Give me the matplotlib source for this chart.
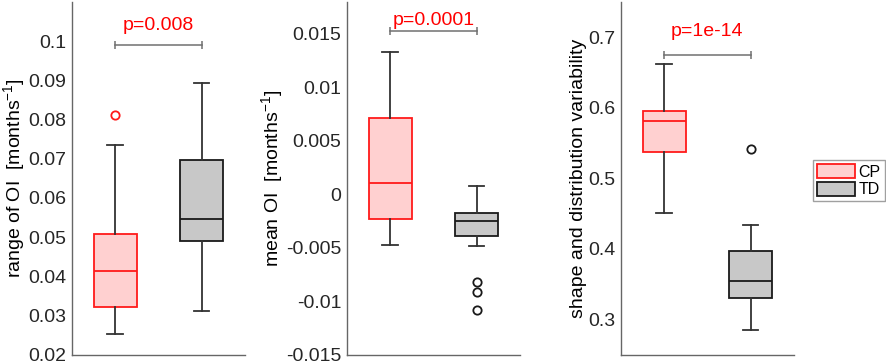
import matplotlib
matplotlib.use("Agg")
import matplotlib.pyplot as plt
import matplotlib.patches as mpatches
from matplotlib.ticker import FuncFormatter

plt.rcParams['font.family'] = ['Liberation Sans', 'DejaVu Sans']
plt.rcParams['mathtext.fontset'] = 'custom'
plt.rcParams['mathtext.rm'] = 'Liberation Sans'
plt.rcParams['mathtext.default'] = 'rm'

groups = ["CP", "TD"]

# box stats per panel: (whislo, q1, med, q3, whishi, outliers)
range_oi = {
    "CP": (0.0253, 0.0323, 0.0414, 0.0508, 0.0734, [0.0812]),
    "TD": (0.0311, 0.0490, 0.0547, 0.0697, 0.0894, []),
}
mean_oi = {
    "CP": (-0.0047, -0.0023, 0.0011, 0.0071, 0.0133, []),
    "TD": (-0.0048, -0.0039, -0.0025, -0.0017, 0.0008, [-0.0082, -0.0091, -0.0108]),
}
shape_var = {
    "CP": (0.4515, 0.537, 0.581, 0.595, 0.662, []),
    "TD": (0.285, 0.330, 0.354, 0.397, 0.4345, [0.542]),
}

panels = [range_oi, mean_oi, shape_var]
ylabels = ["range of OI  [months$^{-1}$]", "mean OI  [months$^{-1}$]",
           "shape and distribution variability"]
ylims = [(0.02, 0.11), (-0.015, 0.018), (0.25, 0.75)]
yticks = [[0.02, 0.03, 0.04, 0.05, 0.06, 0.07, 0.08, 0.09, 0.1],
          [-0.015, -0.01, -0.005, 0, 0.005, 0.01, 0.015],
          [0.3, 0.4, 0.5, 0.6, 0.7]]
p_labels = ["p=0.008", "p=0.0001", "p=1e-14"]
bracket_y = [0.0990, 0.0153, 0.675]
p_text_y = [0.1040, 0.0163, 0.708]

face = {"CP": "#ffd0d0", "TD": "#c8c8c8"}
edge = {"CP": "#ff1a1a", "TD": "#1a1a1a"}

fig = plt.figure(figsize=(8.86, 3.64), dpi=100)
lefts = [0.0813, 0.3916, 0.7009]

for k, (data, left) in enumerate(zip(panels, lefts)):
    ax = fig.add_axes([left, 0.025, 0.195, 0.970])
    for i, g in enumerate(groups):
        lo, q1, med, q3, hi, fl = data[g]
        st = dict(whislo=lo, q1=q1, med=med, q3=q3, whishi=hi, fliers=fl)
        ax.bxp([st], positions=[i + 1], widths=0.5, capwidths=0.18,
               patch_artist=True, showfliers=True,
               boxprops=dict(facecolor=face[g], edgecolor=edge[g], linewidth=1.3),
               medianprops=dict(color=edge[g], linewidth=1.3),
               whiskerprops=dict(color="#333333", linewidth=1.3),
               capprops=dict(color="#333333", linewidth=1.3),
               flierprops=dict(marker="o", markerfacecolor="none",
                               markeredgecolor=edge[g], markersize=6,
                               markeredgewidth=1.3))
    ax.plot([1, 2], [bracket_y[k]] * 2, color="#707070", lw=1.1,
            marker="|", markersize=6, markeredgewidth=1.1)
    ax.text(1.5, p_text_y[k], p_labels[k], color="red", fontsize=14,
            ha="center", va="center")
    ax.set_xlim(0.5, 2.5)
    ax.set_ylim(*ylims[k])
    ax.set_yticks(yticks[k])
    ax.yaxis.set_major_formatter(FuncFormatter(lambda v, p: f"{v:g}".replace("-", "-")))
    ax.set_xticks([])
    ax.tick_params(axis="y", length=0, labelsize=14, colors="#262626", pad=4)
    ax.set_ylabel(ylabels[k], fontsize=14, labelpad=1)
    for s in ["top", "right"]:
        ax.spines[s].set_visible(False)
    for s in ["left", "bottom"]:
        ax.spines[s].set_color("#666666")
        ax.spines[s].set_linewidth(1.0)

handles = [mpatches.Patch(facecolor=face[g], edgecolor=edge[g], linewidth=1.3, label=g)
           for g in groups]
fig.legend(handles=handles, loc="upper left", bbox_to_anchor=(0.9176, 0.56),
           fontsize=11.5, frameon=True, fancybox=False, edgecolor="#888888",
           handlelength=2.4, handleheight=0.95, handletextpad=0.2,
           borderpad=0.25, labelspacing=0.15, borderaxespad=0)

plt.savefig("out.png", dpi=100)
plt.close()
